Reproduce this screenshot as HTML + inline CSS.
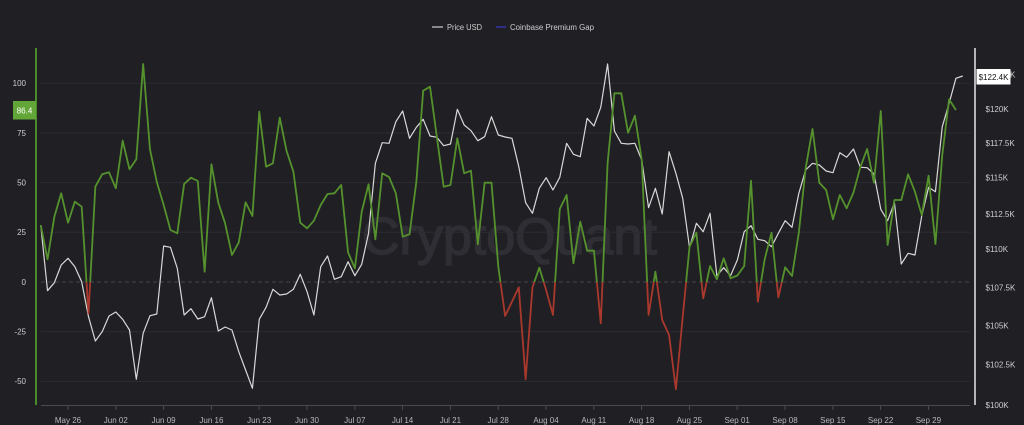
<!DOCTYPE html>
<html>
<head>
<meta charset="utf-8">
<style>
  html,body{margin:0;padding:0;background:#1f1f24;}
  body{width:1024px;height:425px;overflow:hidden;}
  svg{display:block;font-family:"Liberation Sans",sans-serif;}
</style>
</head>
<body>
<svg width="1024" height="425" viewBox="0 0 1024 425" xmlns="http://www.w3.org/2000/svg">
  <rect x="0" y="0" width="1024" height="425" fill="#1f1f24"/>
  <defs>
    <clipPath id="pos"><rect x="0" y="0" width="1024" height="282"/></clipPath>
    <clipPath id="neg"><rect x="0" y="282" width="1024" height="143"/></clipPath>
  </defs>

  <!-- watermark -->
  <text x="362" y="254" font-size="52" fill="#2e2e34" stroke="#2e2e34" stroke-width="1.5">CryptoQuant</text>

  <!-- legend -->
  <line x1="432" y1="27" x2="443" y2="27" stroke="#cfcfcf" stroke-width="1.2"/>
  <text x="447" y="30" font-size="8" fill="#cfcfcf" textLength="35" lengthAdjust="spacingAndGlyphs">Price USD</text>
  <line x1="496" y1="27" x2="506" y2="27" stroke="#3a3ad0" stroke-width="1.2"/>
  <text x="510" y="30" font-size="8" fill="#cfcfcf" textLength="84" lengthAdjust="spacingAndGlyphs">Coinbase Premium Gap</text>

  <!-- gridlines -->
  <g stroke="#2c2c32" stroke-width="1">
    <line x1="41" y1="83.2" x2="970" y2="83.2"/>
    <line x1="41" y1="132.9" x2="970" y2="132.9"/>
    <line x1="41" y1="182.6" x2="970" y2="182.6"/>
    <line x1="41" y1="232.3" x2="970" y2="232.3"/>
    <line x1="41" y1="331.7" x2="970" y2="331.7"/>
    <line x1="41" y1="381.4" x2="970" y2="381.4"/>
  </g>
  <line x1="41" y1="282" x2="970" y2="282" stroke="#45454b" stroke-width="1" stroke-dasharray="4,3"/>

  <!-- axes -->
  <line x1="36" y1="48" x2="36" y2="405" stroke="#4a8a2a" stroke-width="2"/>
  <line x1="975" y1="48" x2="975" y2="405" stroke="#e6e6e6" stroke-width="1.5"/>
  <line x1="41" y1="405.5" x2="970" y2="405.5" stroke="#4a4a50" stroke-width="1"/>
  <g stroke="#4a4a50" stroke-width="1">
    <line x1="68" y1="405" x2="68" y2="410"/>
    <line x1="115.8" y1="405" x2="115.8" y2="410"/>
    <line x1="163.6" y1="405" x2="163.6" y2="410"/>
    <line x1="211.4" y1="405" x2="211.4" y2="410"/>
    <line x1="259.2" y1="405" x2="259.2" y2="410"/>
    <line x1="307" y1="405" x2="307" y2="410"/>
    <line x1="354.8" y1="405" x2="354.8" y2="410"/>
    <line x1="402.6" y1="405" x2="402.6" y2="410"/>
    <line x1="450.4" y1="405" x2="450.4" y2="410"/>
    <line x1="498.2" y1="405" x2="498.2" y2="410"/>
    <line x1="546" y1="405" x2="546" y2="410"/>
    <line x1="593.8" y1="405" x2="593.8" y2="410"/>
    <line x1="641.6" y1="405" x2="641.6" y2="410"/>
    <line x1="689.4" y1="405" x2="689.4" y2="410"/>
    <line x1="737.2" y1="405" x2="737.2" y2="410"/>
    <line x1="785" y1="405" x2="785" y2="410"/>
    <line x1="832.8" y1="405" x2="832.8" y2="410"/>
    <line x1="880.6" y1="405" x2="880.6" y2="410"/>
    <line x1="928.4" y1="405" x2="928.4" y2="410"/>
  </g>

  <!-- x labels -->
  <g font-size="8" fill="#b8b8b8" text-anchor="middle">
    <text x="68" y="423">May 26</text>
    <text x="115.8" y="423">Jun 02</text>
    <text x="163.6" y="423">Jun 09</text>
    <text x="211.4" y="423">Jun 16</text>
    <text x="259.2" y="423">Jun 23</text>
    <text x="307" y="423">Jun 30</text>
    <text x="354.8" y="423">Jul 07</text>
    <text x="402.6" y="423">Jul 14</text>
    <text x="450.4" y="423">Jul 21</text>
    <text x="498.2" y="423">Jul 28</text>
    <text x="546" y="423">Aug 04</text>
    <text x="593.8" y="423">Aug 11</text>
    <text x="641.6" y="423">Aug 18</text>
    <text x="689.4" y="423">Aug 25</text>
    <text x="737.2" y="423">Sep 01</text>
    <text x="785" y="423">Sep 08</text>
    <text x="832.8" y="423">Sep 15</text>
    <text x="880.6" y="423">Sep 22</text>
    <text x="928.4" y="423">Sep 29</text>
  </g>

  <!-- left labels -->
  <g font-size="8" fill="#cfcfcf" text-anchor="end">
    <text x="26" y="86">100</text>
    <text x="26" y="136">75</text>
    <text x="26" y="185.5">50</text>
    <text x="26" y="235">25</text>
    <text x="26" y="285">0</text>
    <text x="26" y="334.5">-25</text>
    <text x="26" y="384">-50</text>
  </g>

  <!-- right labels -->
  <g font-size="8" fill="#cfcfcf">
    <text x="985.5" y="77.3">$122.5K</text>
    <text x="985.5" y="111.8">$120K</text>
    <text x="985.5" y="146">$117.5K</text>
    <text x="985.5" y="180.5">$115K</text>
    <text x="985.5" y="216.8">$112.5K</text>
    <text x="985.5" y="252.2">$110K</text>
    <text x="985.5" y="290.5">$107.5K</text>
    <text x="985.5" y="328.5">$105K</text>
    <text x="985.5" y="367.5">$102.5K</text>
    <text x="985.5" y="407.8">$100K</text>
  </g>

  <!-- price series -->
  <polyline fill="none" stroke="#d9d9d9" stroke-width="1.2" stroke-linejoin="round" vector-effect="non-scaling-stroke"
    transform="translate(40.7 0) scale(6.83 1)"
    points="0,225 1,290.7 2,282.7 3,265 4,258.3 5,266.7 6,281.7 7,316.7 8,341 9,331.7 10,316 11,312 12,319.3 13,330 14,379.3 15,333.3 16,315.7 17,314 18,246 19,247.3 20,268.3 21,315 22,308.7 23,319 24,316.7 25,297.7 26,331 27,327 28,330 29,351.7 30,370 31,388.3 32,319.3 33,307.3 34,289.3 35,295 36,294 37,289.3 38,274.3 39,291.7 40,315 41,266.7 42,256 43,279.3 44,276.7 45,261.7 46,275.7 47,264.3 48,233.3 49,163.3 50,142.7 51,143.3 52,121.7 53,111 54,138.3 55,127.3 56,119.3 57,136 58,137.3 59,145.7 60,144 61,109.3 62,125 63,130.7 64,140.7 65,136.7 66,116.7 67,135 68,137 69,138.3 70,166.7 71,202.7 72,213.3 73,188.3 74,177.7 75,190 76,177.3 77,143.3 78,154.3 79,156.7 80,118.3 81,126 82,107.3 83,64 84,131 85,143.3 86,144 87,143.3 88,160 89,207.7 90,188.3 91,214 92,151.7 93,173.3 94,198.3 95,247.7 96,223.3 97,231.7 98,213.3 99,275.7 100,267.7 101,275.7 102,260 103,231.7 104,225.7 105,239.3 106,240.7 107,246.7 108,233.3 109,220.7 110,227.3 111,193.3 112,170 113,163.3 114,165 115,171 116,172.7 117,152.7 118,157.3 119,149 120,167.3 121,167.7 122,174 123,209.3 124,220.7 125,202.7 126,264 127,253.3 128,255 129,215.7 130,187.3 131,191.7 132,126.7 133,103.3 134,78.3 135,76"/>

  <!-- premium gap series (green above zero, red below) -->
  <g clip-path="url(#pos)">
    <polyline id="gap" fill="none" stroke="#55922d" stroke-width="1.8" stroke-linejoin="round" vector-effect="non-scaling-stroke"
      transform="translate(40.7 0) scale(6.83 1)"
      points="0,225 1,259.3 2,216.7 3,193.3 4,222.7 5,201.7 6,206.7 7,313.3 8,186.7 9,174.3 10,172.3 11,188.3 12,140.7 13,169.3 14,159.3 15,64 16,149.3 17,182 18,205 19,230 20,233.3 21,184 22,177.7 23,181 24,271.7 25,164.3 26,202.7 27,223.3 28,255 29,242.3 30,202.3 31,216 32,111.7 33,166.7 34,163.3 35,117.7 36,151 37,171.7 38,222.7 39,228.3 40,220.7 41,205 42,194 43,193.3 44,185 45,252.3 46,268.3 47,211.7 48,184.3 49,239.3 50,173.3 51,177 52,193.3 53,236.7 54,234.3 55,181.7 56,90.7 57,86.7 58,136.7 59,186.7 60,185 61,138.3 62,173.3 63,170.7 64,244.3 65,182.7 66,182.7 67,266.7 68,316 69,301.7 70,287.3 71,379.3 72,287.3 73,267.7 74,290 75,315 76,209 77,195 78,263.3 79,221.7 80,250.7 81,250.7 82,323.3 83,163.3 84,93.3 85,93.3 86,132.7 87,115.7 88,160 89,315 90,271.7 91,320 92,335 93,389.3 94,316.7 95,246.7 96,232.7 97,298.3 98,266 99,279.3 100,258.3 101,278.3 102,275.5 103,266 104,180.7 105,301.7 106,259.3 107,232.7 108,297.3 109,267.3 110,276 111,232.7 112,168.3 113,129 114,182.7 115,190 116,219.3 117,195 118,208.3 119,192.5 120,167.3 121,149 122,182.7 123,111 124,245 125,200 126,200 127,174.3 128,191.7 129,215 130,175.7 131,244 132,155 133,99.3 134,110"/>
  </g>
  <g clip-path="url(#neg)">
    <polyline fill="none" stroke="#a9392d" stroke-width="1.8" stroke-linejoin="round" vector-effect="non-scaling-stroke"
      transform="translate(40.7 0) scale(6.83 1)"
      points="0,225 1,259.3 2,216.7 3,193.3 4,222.7 5,201.7 6,206.7 7,313.3 8,186.7 9,174.3 10,172.3 11,188.3 12,140.7 13,169.3 14,159.3 15,64 16,149.3 17,182 18,205 19,230 20,233.3 21,184 22,177.7 23,181 24,271.7 25,164.3 26,202.7 27,223.3 28,255 29,242.3 30,202.3 31,216 32,111.7 33,166.7 34,163.3 35,117.7 36,151 37,171.7 38,222.7 39,228.3 40,220.7 41,205 42,194 43,193.3 44,185 45,252.3 46,268.3 47,211.7 48,184.3 49,239.3 50,173.3 51,177 52,193.3 53,236.7 54,234.3 55,181.7 56,90.7 57,86.7 58,136.7 59,186.7 60,185 61,138.3 62,173.3 63,170.7 64,244.3 65,182.7 66,182.7 67,266.7 68,316 69,301.7 70,287.3 71,379.3 72,287.3 73,267.7 74,290 75,315 76,209 77,195 78,263.3 79,221.7 80,250.7 81,250.7 82,323.3 83,163.3 84,93.3 85,93.3 86,132.7 87,115.7 88,160 89,315 90,271.7 91,320 92,335 93,389.3 94,316.7 95,246.7 96,232.7 97,298.3 98,266 99,279.3 100,258.3 101,278.3 102,275.5 103,266 104,180.7 105,301.7 106,259.3 107,232.7 108,297.3 109,267.3 110,276 111,232.7 112,168.3 113,129 114,182.7 115,190 116,219.3 117,195 118,208.3 119,192.5 120,167.3 121,149 122,182.7 123,111 124,245 125,200 126,200 127,174.3 128,191.7 129,215 130,175.7 131,244 132,155 133,99.3 134,110"/>
  </g>

  <!-- current value badges -->
  <rect x="13" y="101" width="23" height="18.5" fill="#62a638"/>
  <text x="24.5" y="113.3" font-size="8" fill="#ffffff" text-anchor="middle">86.4</text>
  <rect x="976.5" y="69" width="34" height="15.5" fill="#ffffff"/>
  <text x="993.5" y="79.8" font-size="8" fill="#111111" text-anchor="middle">$122.4K</text>
</svg>
</body>
</html>
